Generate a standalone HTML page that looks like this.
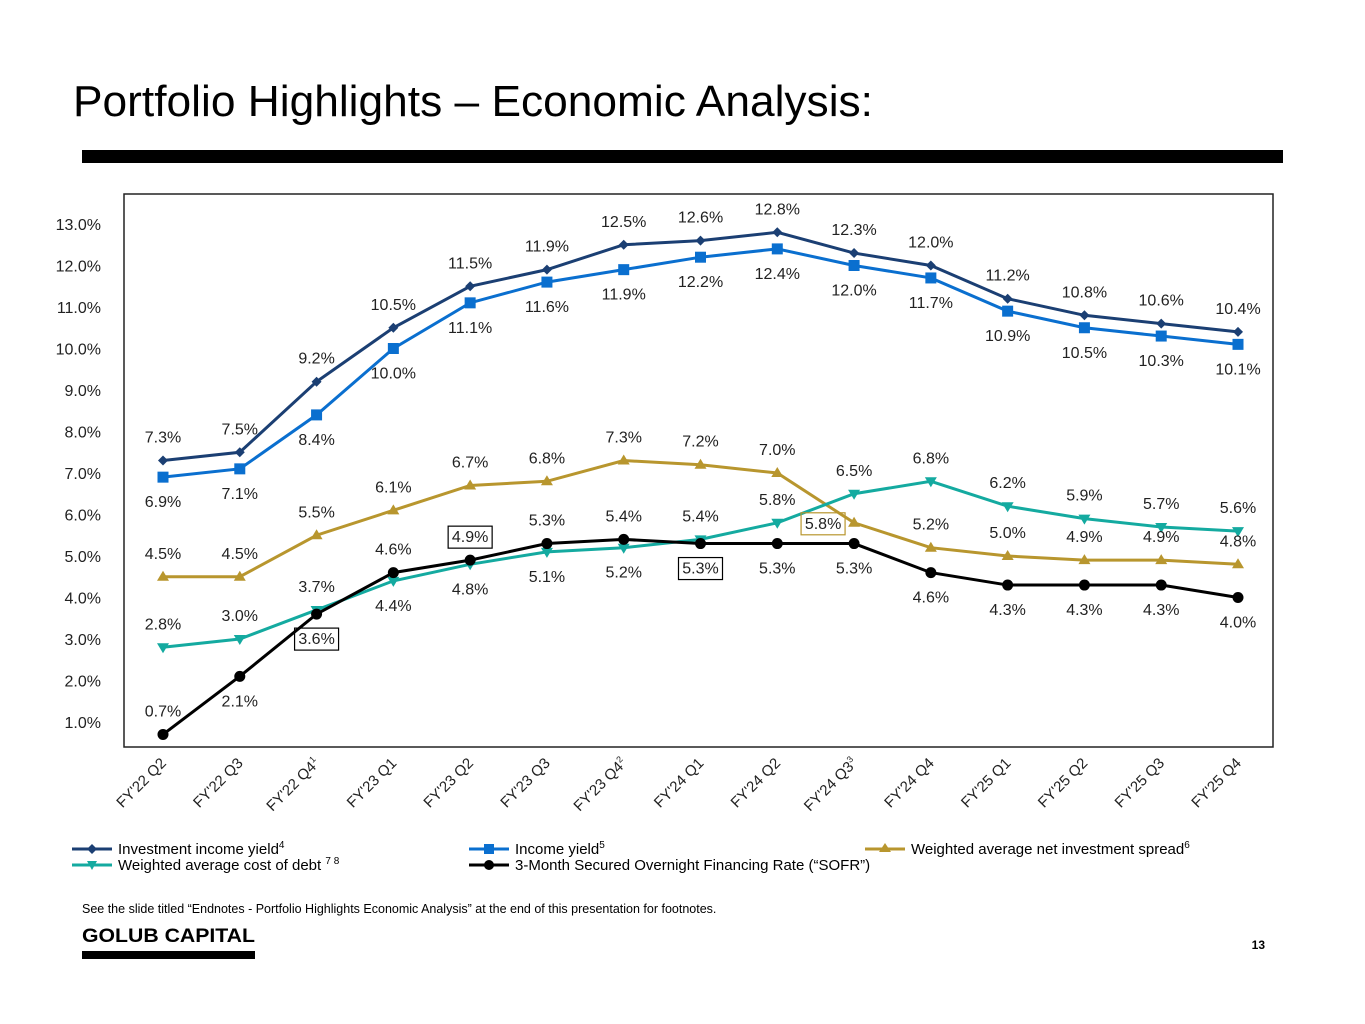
<!DOCTYPE html>
<html><head><meta charset="utf-8"><style>
body{margin:0;background:#fff;}
svg{display:block;font-family:"Liberation Sans Narrow","Liberation Sans",sans-serif;}
</style></head><body>
<svg id="c" width="1365" height="1024" viewBox="0 0 1365 1024">
<text x="73" y="116" font-size="44" textLength="800" lengthAdjust="spacingAndGlyphs" fill="#000">Portfolio Highlights – Economic Analysis:</text>
<rect x="82" y="150" width="1201" height="13" fill="#000"/>
<rect x="124" y="194" width="1149" height="553" fill="none" stroke="#222" stroke-width="1.5"/>
<g id="yaxis"></g>
<g id="xaxis"></g>
<g id="series"></g>
<g id="labels"></g>
<g font-size="15">
 <g>
  <line x1="72" y1="849" x2="112" y2="849" stroke="#1b3f73" stroke-width="3"/><path d="M92 844 L97 849 L92 854 L87 849Z" fill="#1b3f73"/>
  <text x="118" y="854">Investment income yield<tspan font-size="10" dy="-6">4</tspan></text></g>
 <g>
  <line x1="72" y1="865" x2="112" y2="865" stroke="#14aaa0" stroke-width="3"/><path d="M87 861 L97 861 L92 870Z" fill="#14aaa0"/>
  <text x="118" y="870">Weighted average cost of debt <tspan font-size="10" dy="-6">7 8</tspan></text></g>
 <g>
  <line x1="469" y1="849" x2="509" y2="849" stroke="#0a6fcf" stroke-width="3"/><rect x="484" y="844" width="10" height="10" fill="#0a6fcf"/>
  <text x="515" y="854">Income yield<tspan font-size="10" dy="-6">5</tspan></text></g>
 <g>
  <line x1="469" y1="865" x2="509" y2="865" stroke="#000" stroke-width="3"/><circle cx="489" cy="865" r="5" fill="#000"/>
  <text x="515" y="870">3-Month Secured Overnight Financing Rate (“SOFR”)</text></g>
 <g>
  <line x1="865" y1="849" x2="905" y2="849" stroke="#b8962e" stroke-width="3"/><path d="M885 843 L891 852 L879 852Z" fill="#b8962e"/>
  <text x="911" y="854">Weighted average net investment spread<tspan font-size="10" dy="-6">6</tspan></text></g>
</g>
<text x="82" y="913" font-size="12.5">See the slide titled “Endnotes - Portfolio Highlights Economic Analysis” at the end of this presentation for footnotes.</text>
<text x="82" y="942" font-size="19" font-weight="bold" font-family="Liberation Sans,sans-serif" textLength="173" lengthAdjust="spacingAndGlyphs">GOLUB CAPITAL</text>
<rect x="82" y="951" width="173" height="8" fill="#000"/>
<text x="1265" y="949" font-size="12" font-weight="bold" text-anchor="end">13</text>
</svg>
<script>
const categories=["FY'22 Q2","FY'22 Q3","FY'22 Q4","FY'23 Q1","FY'23 Q2","FY'23 Q3","FY'23 Q4","FY'24 Q1","FY'24 Q2","FY'24 Q3","FY'24 Q4","FY'25 Q1","FY'25 Q2","FY'25 Q3","FY'25 Q4"];
const catSup=["","","1","","","","2","","","3","","","","",""];
const yTicks=[1,2,3,4,5,6,7,8,9,10,11,12,13];
const investmentYield=[7.3,7.5,9.2,10.5,11.5,11.9,12.5,12.6,12.8,12.3,12.0,11.2,10.8,10.6,10.4];
const incomeYield=[6.9,7.1,8.4,10.0,11.1,11.6,11.9,12.2,12.4,12.0,11.7,10.9,10.5,10.3,10.1];
const netSpread=[4.5,4.5,5.5,6.1,6.7,6.8,7.3,7.2,7.0,5.8,5.2,5.0,4.9,4.9,4.8];
const costOfDebt=[2.8,3.0,3.7,4.4,4.8,5.1,5.2,5.4,5.8,6.5,6.8,6.2,5.9,5.7,5.6];
const sofr=[0.7,2.1,3.6,4.6,4.9,5.3,5.4,5.3,5.3,5.3,4.6,4.3,4.3,4.3,4.0];

const NS="http://www.w3.org/2000/svg";
const xs=i=>163+i*(1238-163)/(categories.length-1);
const ys=v=>722-(v-1)*(722-224)/12;
function mk(tag,attrs,parent){const e=document.createElementNS(NS,tag);for(const k in attrs)e.setAttribute(k,attrs[k]);parent.appendChild(e);return e;}
const yg=document.getElementById('yaxis'),xg=document.getElementById('xaxis'),sg=document.getElementById('series'),lg=document.getElementById('labels');
yTicks.forEach(v=>{const t=mk('text',{x:101,y:ys(v)+6,'font-size':16,'text-anchor':'end',fill:'#222'},yg);t.textContent=v.toFixed(1)+'%';

});
categories.forEach((c,i)=>{const x=xs(i)+4,y=764;const t=mk('text',{x:x,y:y,'font-size':15,'text-anchor':'end',transform:`rotate(-45 ${x} ${y})`,fill:'#222'},xg);t.textContent=c;
if(catSup[i]){const s=mk('tspan',{'font-size':9,dy:-6},t);s.textContent=catSup[i];}

});
const series=[
 {name:'net-spread',d:netSpread,c:'#b8962e',m:'tri',pos:['a','a','a','a','a','a','a','a','a','l','a','a','a','a','a'],box:[9]},
 {name:'cost-of-debt',d:costOfDebt,c:'#14aaa0',m:'tridown',pos:['a','a','a','b','b','b','b','a','a','a','a','a','a','a','a'],box:[]},
 {name:'sofr',d:sofr,c:'#000',m:'circle',pos:['a','b','b','a','a','a','a','b','b','b','b','b','b','b','b'],box:[2,4,7]},
 {name:'income-yield',d:incomeYield,c:'#0a6fcf',m:'sq',pos:Array(15).fill('b'),box:[]},
 {name:'investment-yield',d:investmentYield,c:'#1b3f73',m:'dia',pos:Array(15).fill('a'),box:[]}
];
series.forEach(s=>{
 const p=mk('polyline',{points:s.d.map((v,i)=>xs(i)+','+ys(v)).join(' '),fill:'none',stroke:s.c,'stroke-width':3},sg);
 
 
 s.d.forEach((v,i)=>{const x=xs(i),y=ys(v);let e;
  if(s.m==='circle')e=mk('circle',{cx:x,cy:y,r:5.5,fill:s.c},sg);
  else if(s.m==='sq')e=mk('rect',{x:x-5.5,y:y-5.5,width:11,height:11,fill:s.c},sg);
  else if(s.m==='dia')e=mk('path',{d:`M${x} ${y-5}L${x+5} ${y}L${x} ${y+5}L${x-5} ${y}Z`,fill:s.c},sg);
  else if(s.m==='tri')e=mk('path',{d:`M${x} ${y-6}L${x+6} ${y+4}L${x-6} ${y+4}Z`,fill:s.c},sg);
  else e=mk('path',{d:`M${x-6} ${y-4}L${x+6} ${y-4}L${x} ${y+6}Z`,fill:s.c},sg);
  
  
  const ps=s.pos[i];let lx=x,ly;
  if(ps==='a')ly=y-18;else if(ps==='b')ly=y+30;else{lx=x-31;ly=y+6;}
  const t=mk('text',{x:lx,y:ly,'font-size':16,'text-anchor':'middle',fill:'#222'},lg);t.textContent=v.toFixed(1)+'%';
  
  
  if(s.box.includes(i)){const r=mk('rect',{x:lx-22,y:ly-16,width:44,height:22,fill:'none',stroke:s.name==='net-spread'?'#b8962e':'#000','stroke-width':1.2},lg);
   
   }
 });
});
</script>
</body></html>
